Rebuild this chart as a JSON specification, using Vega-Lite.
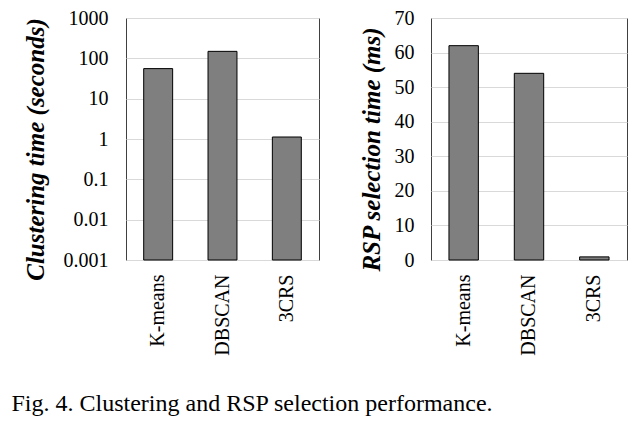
{
  "$schema": "https://vega.github.io/schema/vega-lite/v6.json",
  "padding": {"left": 11, "top": 7, "right": 5, "bottom": 5},
  "background": "white",
  "config": {
    "font": "Liberation Serif",
    "view": {"stroke": "#404040", "strokeWidth": 1},
    "style": {"guide-label": {"font": "Liberation Serif"}, "guide-title": {"font": "Liberation Serif"}},
    "axis": {
      "labelFont": "Liberation Serif",
      "labelFontSize": 20,
      "labelColor": "black",
      "titleFont": "Liberation Serif",
      "titleFontSize": 25,
      "titleFontStyle": "italic",
      "titleFontWeight": "bold",
      "titleColor": "black",
      "domain": false,
      "ticks": false,
      "gridColor": "#d9d9d9",
      "gridWidth": 1
    },
    "concat": {"spacing": 38}
  },
  "title": {
    "text": "Fig. 4. Clustering and RSP selection performance.",
    "orient": "bottom",
    "anchor": "start",
    "font": "Liberation Serif",
    "fontSize": 24,
    "fontWeight": "normal",
    "color": "black",
    "offset": 36,
    "dx": -11
  },
  "hconcat": [
    {
      "width": 193,
      "height": 242,
      "data": {"values": [
        {"method": "K-means", "time": 55.6},
        {"method": "DBSCAN", "time": 149},
        {"method": "3CRS", "time": 1.12}
      ]},
      "mark": {"type": "bar", "color": "#7f7f7f", "stroke": "black", "strokeWidth": 1},
      "encoding": {
        "x": {
          "field": "method", "type": "nominal", "sort": null,
          "scale": {"paddingInner": 0.55},
          "axis": {"title": null, "labelAngle": -90, "labelPadding": 14, "grid": false, "labelFont": "Liberation Serif", "labelFontSize": 20}
        },
        "y": {
          "field": "time", "type": "quantitative",
          "scale": {"type": "log", "domain": [0.001, 1000], "nice": false},
          "axis": {"title": "Clustering time (seconds)", "values": [0.001, 0.01, 0.1, 1, 10, 100, 1000], "format": "~g", "labelPadding": 18, "titlePadding": 15, "titleY": 131, "labelFont": "Liberation Serif", "titleFont": "Liberation Serif"}
        },
        "y2": {"datum": 0.001}
      }
    },
    {
      "width": 196,
      "height": 242,
      "data": {"values": [
        {"method": "K-means", "time": 62},
        {"method": "DBSCAN", "time": 54},
        {"method": "3CRS", "time": 0.9}
      ]},
      "mark": {"type": "bar", "color": "#7f7f7f", "stroke": "black", "strokeWidth": 1},
      "encoding": {
        "x": {
          "field": "method", "type": "nominal", "sort": null,
          "scale": {"paddingInner": 0.55},
          "axis": {"title": null, "labelAngle": -90, "labelPadding": 14, "grid": false, "labelFont": "Liberation Serif", "labelFontSize": 20}
        },
        "y": {
          "field": "time", "type": "quantitative",
          "scale": {"domain": [0, 70], "nice": false},
          "axis": {"title": "RSP selection time (ms)", "values": [0, 10, 20, 30, 40, 50, 60, 70], "labelPadding": 17, "titlePadding": 10, "titleY": 131, "labelFont": "Liberation Serif", "titleFont": "Liberation Serif"}
        }
      }
    }
  ]
}
